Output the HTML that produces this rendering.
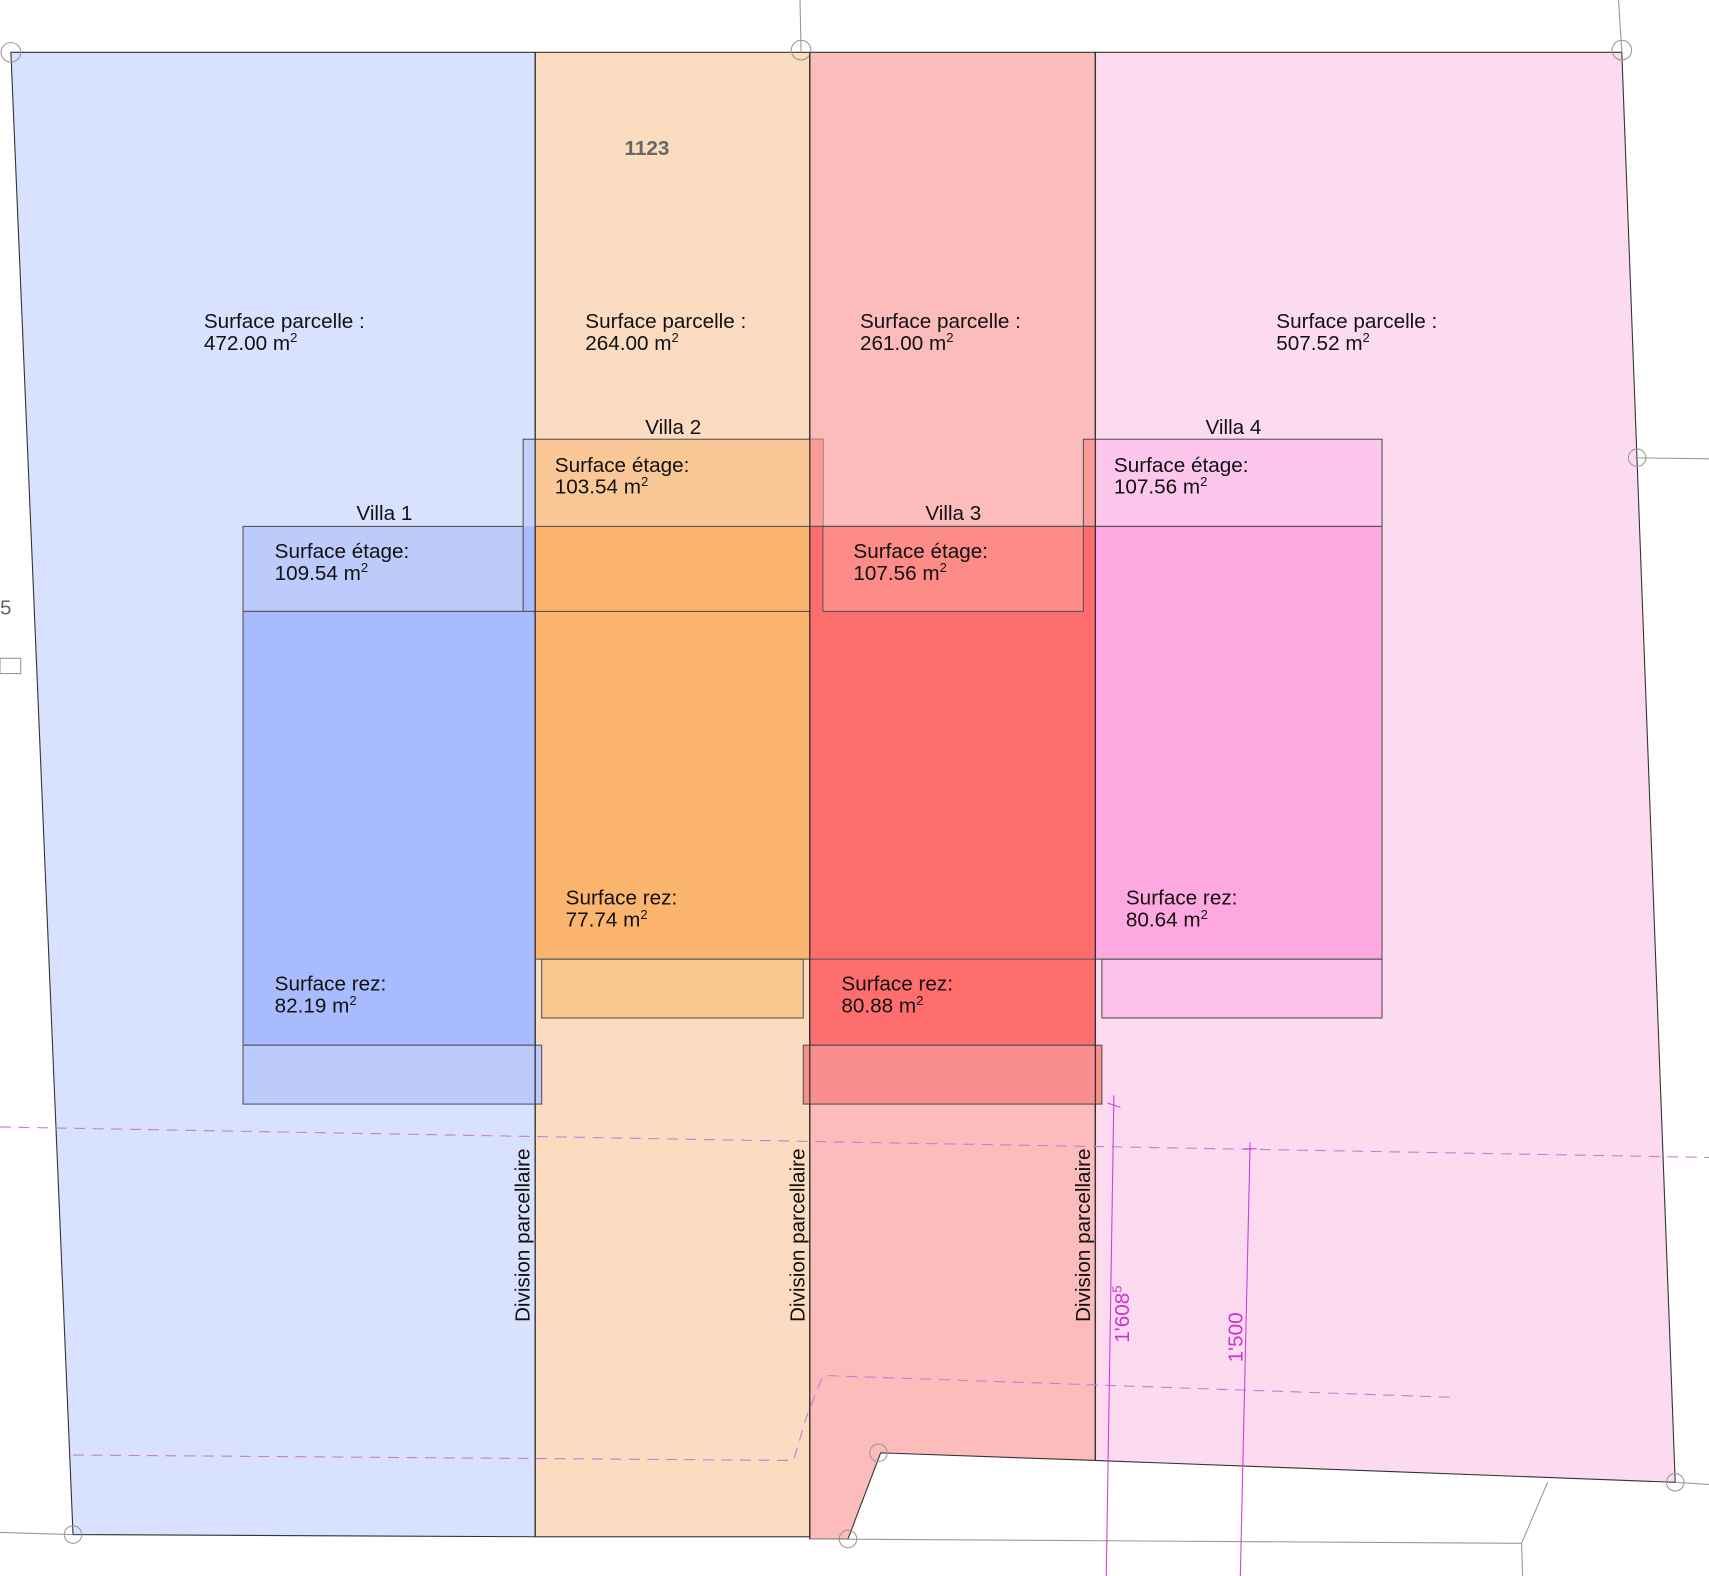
<!DOCTYPE html>
<html><head><meta charset="utf-8"><style>
html,body{margin:0;padding:0;background:#fff;}
svg{display:block;}
text{font-family:"Liberation Sans",sans-serif;font-size:19px;fill:#111;}
</style></head><body>
<svg width="1709" height="1576" viewBox="0 0 1568 1446" preserveAspectRatio="none" xmlns="http://www.w3.org/2000/svg">
<rect width="1568" height="1446" fill="#fff"/>
<polygon points="10,48 491,48 491,1410 67,1408" fill="#d8e1fd" stroke="#333" stroke-width="1"/>
<rect x="491" y="48" width="252" height="1362" fill="#fcdcc0" stroke="#333" stroke-width="1"/>
<polygon points="743,48 1005,48 1005,1340 808,1333 778,1412 743,1412" fill="#fcbcbc" stroke="#333" stroke-width="1"/>
<polygon points="1005,48 1488,48 1537,1360 1005,1340" fill="#fcdbf1" stroke="#333" stroke-width="1"/>
<g stroke="#999" stroke-width="1" fill="none">
<line x1="734" y1="0" x2="735" y2="48"/><line x1="1485" y1="0" x2="1488" y2="48"/>
<line x1="0" y1="1406" x2="67" y2="1408"/><line x1="743" y1="1412" x2="1396" y2="1416"/>
<line x1="1396" y1="1416" x2="1397" y2="1446"/><line x1="1537" y1="1360" x2="1568" y2="1362"/>
<line x1="1396" y1="1416" x2="1420" y2="1360"/><line x1="1500" y1="420" x2="1568" y2="421"/>
<circle cx="10" cy="48" r="9"/><circle cx="735" cy="46" r="9"/><circle cx="1488" cy="46" r="9"/>
<circle cx="67" cy="1408" r="8"/><circle cx="778" cy="1412" r="8"/><circle cx="806" cy="1333" r="8"/>
<circle cx="1537" cy="1360" r="8"/><circle cx="1502" cy="420" r="8"/>
<rect x="0" y="604" width="19" height="14"/>
</g>
<rect x="223" y="483" width="257" height="78" fill="#bccbfc" stroke="#555" stroke-width="1"/>
<rect x="480" y="403" width="11" height="80" fill="#c4cffa"/>
<rect x="480" y="483" width="11" height="78" fill="#a8bcfd"/>
<rect x="223" y="561" width="268" height="398" fill="#a8bcfd" stroke="#555" stroke-width="1"/>
<rect x="223" y="959" width="274" height="54" fill="#bccbfc" stroke="#555" stroke-width="1"/>
<rect x="491" y="403" width="252" height="80" fill="#f9c896"/>
<rect x="491" y="483" width="252" height="397" fill="#fbb56f"/>
<rect x="497" y="880" width="240" height="54" fill="#fbc88f" stroke="#555" stroke-width="1"/>
<rect x="480" y="403" width="275" height="158" fill="none" stroke="#555" stroke-width="1"/>
<rect x="743" y="483" width="262" height="476" fill="#ff6e6e"/>
<rect x="743" y="403" width="12" height="80" fill="#fc9b98"/>
<rect x="994" y="403" width="11" height="80" fill="#fc9b98"/>
<rect x="755" y="483" width="239" height="78" fill="#fd8c88" stroke="#555" stroke-width="1"/>
<rect x="737" y="959" width="274" height="54" fill="#f98e8e" stroke="#555" stroke-width="1"/>
<rect x="743" y="483" width="262" height="476" fill="none" stroke="#555" stroke-width="1"/>
<rect x="1005" y="403" width="263" height="80" fill="#fdc6ec"/>
<rect x="1005" y="483" width="263" height="397" fill="#fda8e0"/>
<rect x="1011" y="880" width="257" height="54" fill="#fdc0ea" stroke="#555" stroke-width="1"/>
<rect x="994" y="403" width="274" height="80" fill="none" stroke="#555" stroke-width="1"/>
<rect x="491" y="483" width="777" height="397" fill="none" stroke="#555" stroke-width="1"/>
<g stroke="#333" stroke-width="1.2"><line x1="491" y1="48" x2="491" y2="1410"/><line x1="743" y1="48" x2="743" y2="1412"/><line x1="1005" y1="48" x2="1005" y2="1340"/></g>
<g stroke="#c87ad8" stroke-width="1" stroke-dasharray="10,7" fill="none">
<line x1="0" y1="1034" x2="1568" y2="1062"/>
<polyline points="67,1335 728,1340 740,1300 755,1262 1330,1282"/>
</g>
<g stroke="#d040d8" stroke-width="1" fill="none">
<line x1="1022" y1="1005" x2="1015" y2="1446"/><line x1="1147" y1="1048" x2="1138" y2="1446"/>
<line x1="1016" y1="1012" x2="1028" y2="1016"/><line x1="1141" y1="1054" x2="1153" y2="1054"/>
</g>
<text x="573" y="142" font-weight="bold" style="fill:#666">1123</text>
<text x="0" y="564" style="fill:#666">5</text>
<text x="187" y="301">Surface parcelle :</text><text x="187" y="321">472.00 m<tspan font-size="12" dy="-7">2</tspan></text>
<text x="537" y="301">Surface parcelle :</text><text x="537" y="321">264.00 m<tspan font-size="12" dy="-7">2</tspan></text>
<text x="789" y="301">Surface parcelle :</text><text x="789" y="321">261.00 m<tspan font-size="12" dy="-7">2</tspan></text>
<text x="1171" y="301">Surface parcelle :</text><text x="1171" y="321">507.52 m<tspan font-size="12" dy="-7">2</tspan></text>
<text x="327" y="477">Villa 1</text><text x="592" y="398">Villa 2</text><text x="849" y="477">Villa 3</text><text x="1106" y="398">Villa 4</text>
<text x="252" y="512">Surface étage:</text><text x="252" y="532">109.54 m<tspan font-size="12" dy="-7">2</tspan></text>
<text x="509" y="433">Surface étage:</text><text x="509" y="453">103.54 m<tspan font-size="12" dy="-7">2</tspan></text>
<text x="783" y="512">Surface étage:</text><text x="783" y="532">107.56 m<tspan font-size="12" dy="-7">2</tspan></text>
<text x="1022" y="433">Surface étage:</text><text x="1022" y="453">107.56 m<tspan font-size="12" dy="-7">2</tspan></text>
<text x="252" y="909">Surface rez:</text><text x="252" y="929">82.19 m<tspan font-size="12" dy="-7">2</tspan></text>
<text x="519" y="830">Surface rez:</text><text x="519" y="850">77.74 m<tspan font-size="12" dy="-7">2</tspan></text>
<text x="772" y="909">Surface rez:</text><text x="772" y="929">80.88 m<tspan font-size="12" dy="-7">2</tspan></text>
<text x="1033" y="830">Surface rez:</text><text x="1033" y="850">80.64 m<tspan font-size="12" dy="-7">2</tspan></text>
<text transform="translate(486,1213) rotate(-90)">Division parcellaire</text>
<text transform="translate(738,1213) rotate(-90)">Division parcellaire</text>
<text transform="translate(1000,1213) rotate(-90)">Division parcellaire</text>
<text transform="translate(1036,1232) rotate(-90)" style="fill:#d030d0">1'608<tspan font-size="12" dy="-7">5</tspan></text>
<text transform="translate(1140,1250) rotate(-90)" style="fill:#d030d0">1'500</text>
</svg>
</body></html>
